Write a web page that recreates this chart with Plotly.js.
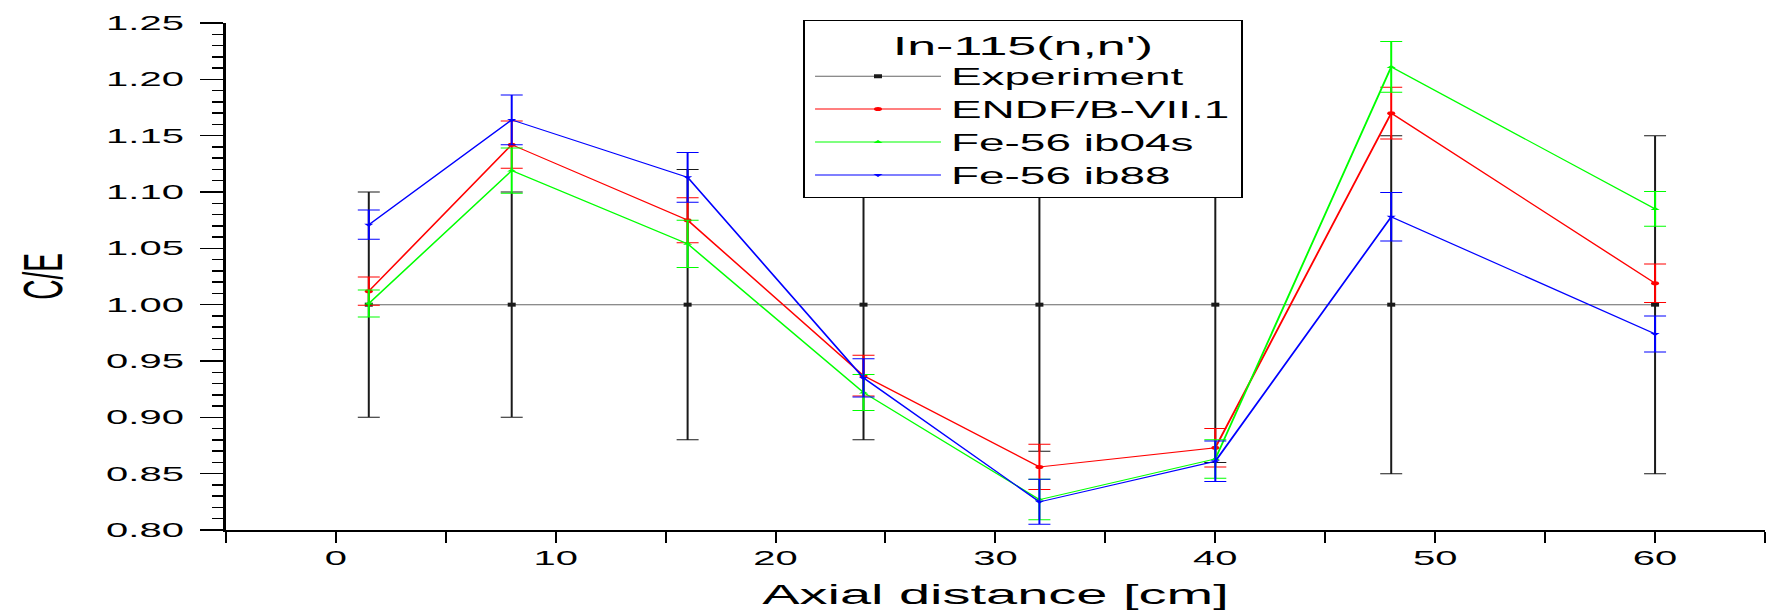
<!DOCTYPE html>
<html>
<head>
<meta charset="utf-8">
<script src="https://cdn.plot.ly/plotly-3.0.1.min.js"></script>
<style>
html, body { margin: 0; padding: 0; overflow: hidden; background: #fff; }
#plot { width: 886px; height: 614px; transform: scaleX(1.99887); transform-origin: 0 0; }
</style>
</head>
<body>
<div id="plot"></div>
<script>
// Axial positions [cm]
const xPos = [1.5, 8, 16, 24, 32, 40, 48, 60];
// Experiment (C/E = 1) with its uncertainties
const expVal = [1, 1, 1, 1, 1, 1, 1, 1];
const expErr = [0.10, 0.10, 0.12, 0.12, 0.13, 0.14, 0.15, 0.15];
// ENDF/B-VII.1
const endfVal = [1.012, 1.142, 1.075, 0.937, 0.856, 0.873, 1.170, 1.019];
const endfErr = [0.0125, 0.021, 0.020, 0.018, 0.020, 0.017, 0.023, 0.017];
// Fe-56 ib04s
const ib04sVal = [1.001, 1.119, 1.054, 0.922, 0.827, 0.863, 1.211, 1.085];
const ib04sErr = [0.012, 0.020, 0.021, 0.016, 0.018, 0.017, 0.0225, 0.0155];
// Fe-56 ib88
const ib88Val = [1.071, 1.164, 1.113, 0.935, 0.825, 0.861, 1.078, 0.974];
const ib88Err = [0.013, 0.022, 0.022, 0.017, 0.020, 0.018, 0.0215, 0.016];

const seriesNames = ['Experiment', 'ENDF/B-VII.1', 'Fe-56 ib04s', 'Fe-56 ib88'];
const xTickVals = [0, 10, 20, 30, 40, 50, 60];
const yTickVals = [0.80, 0.85, 0.90, 0.95, 1.00, 1.05, 1.10, 1.15, 1.20, 1.25];

function series(name, y, err, color, symbol, lineColor) {
  return {
    type: 'scatter', mode: 'lines+markers', name: name,
    x: xPos, y: y,
    line: { color: lineColor || color, width: 1 },
    marker: { color: color, symbol: symbol, size: 4 },
    error_y: { type: 'data', array: err, visible: true, color: color, thickness: 1, width: 5.5 }
  };
}

const data = [
  series(seriesNames[0], expVal, expErr, '#1a1a1a', 'square', '#666666'),
  series(seriesNames[1], endfVal, endfErr, '#ff0000', 'circle'),
  series(seriesNames[2], ib04sVal, ib04sErr, '#00ff00', 'triangle-up'),
  series(seriesNames[3], ib88Val, ib88Err, '#0000ff', 'triangle-down')
];

const baseFont = 'Liberation Sans, Arial, sans-serif';

const layout = {
  width: 886, height: 614,
  margin: { l: 113, r: 3, t: 23, b: 84, pad: 0 },
  paper_bgcolor: '#ffffff', plot_bgcolor: '#ffffff',
  font: { family: baseFont, color: '#000000' },
  showlegend: true,
  xaxis: {
    range: [-5, 65], autorange: false,
    tickvals: xTickVals, ticktext: xTickVals.map(String),
    ticks: 'outside', ticklen: 11, tickwidth: 1, tickcolor: '#000',
    minor: { dtick: 5, tick0: 0, ticks: 'outside', ticklen: 11, tickwidth: 1, tickcolor: '#000' },
    showline: true, linecolor: '#000', linewidth: 2,
    showgrid: false, zeroline: false,
    tickfont: { family: baseFont, size: 20, color: '#000' },
    ticklabelstandoff: -2,
    title: { text: 'Axial distance [cm]', font: { family: baseFont, size: 28, color: '#000' }, standoff: 16 }
  },
  yaxis: {
    range: [0.80, 1.25], autorange: false,
    tickvals: yTickVals, ticktext: yTickVals.map(v => v.toFixed(2)),
    ticks: 'outside', ticklen: 11.5, tickwidth: 1.5, tickcolor: '#000',
    minor: { dtick: 0.01, tick0: 0.8, ticks: 'outside', ticklen: 5.5, tickwidth: 1.5, tickcolor: '#000' },
    showline: true, linecolor: '#000', linewidth: 1.5,
    showgrid: false, zeroline: false,
    tickfont: { family: baseFont, size: 20, color: '#000' },
    ticklabelstandoff: 4,
    title: { text: 'C/E', font: { family: 'Liberation Sans Narrow, Liberation Sans, Arial, sans-serif', size: 28, color: '#000' }, standoff: 13 }
  },
  legend: {
    x: 0.375, y: 1.006, xanchor: 'left', yanchor: 'top',
    bgcolor: '#ffffff', bordercolor: '#000', borderwidth: 1,
    font: { family: baseFont, size: 23, color: '#000' },
    title: { text: "In-115(n,n')", side: 'top center', font: { family: baseFont, size: 26, color: '#000' } },
    itemwidth: 63, tracegroupgap: 0, traceorder: 'normal'
  }
};

Plotly.newPlot('plot', data, layout, { displayModeBar: false, staticPlot: true });
</script>
</body>
</html>
